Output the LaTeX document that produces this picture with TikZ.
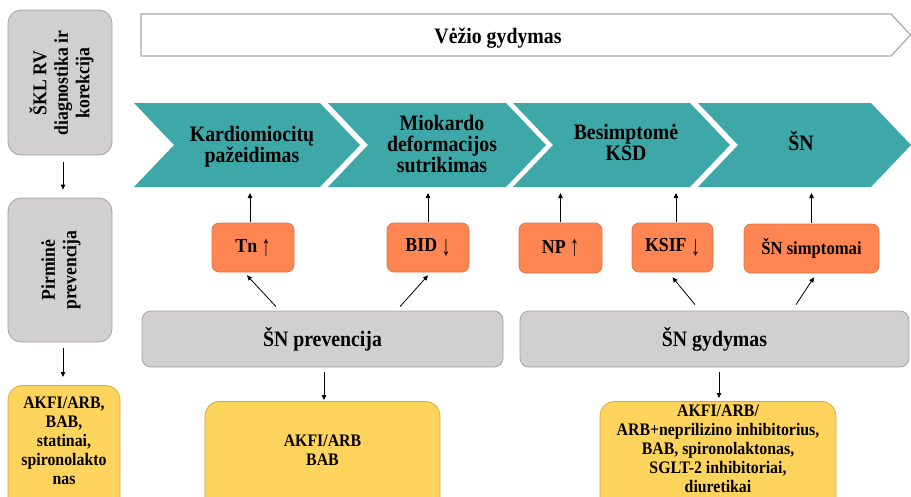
\documentclass[tikz,border=0pt]{standalone}
\usepackage{fontspec}
\setmainfont{Liberation Serif}[FakeStretch=0.9]
\usetikzlibrary{arrows.meta,calc}

\definecolor{chevteal}{HTML}{3EA8A9}
\definecolor{boxgray}{HTML}{D1CFCF}
\definecolor{boxgrayline}{HTML}{A3A3A3}
\definecolor{markorange}{HTML}{FF8552}
\definecolor{markorangeline}{HTML}{DF7444}
\definecolor{drugyellow}{HTML}{FFD45C}
\definecolor{drugyellowline}{HTML}{D2A83E}
\definecolor{bannerline}{HTML}{A8A8A8}

% tall thin arrows for the marker labels
\newcommand{\uparrowmark}{\raisebox{-0.12em}{\scalebox{1}[1.45]{↑}}}
\newcommand{\downarrowmark}{\raisebox{-0.22em}{\scalebox{1}[1.45]{↓}}}

\begin{document}
\begin{tikzpicture}[x=1pt,y=-1pt,
  grayblock/.style={draw=boxgrayline, fill=boxgray, line width=0.8pt, rounded corners=9pt, inner sep=0pt},
  sideblock/.style={grayblock, rounded corners=13pt, minimum width=104pt},
  markbox/.style={draw=markorangeline, fill=markorange, line width=0.7pt, rounded corners=7pt,
    inner sep=0pt, minimum height=49pt, font=\fontsize{19.8}{21}\selectfont\bfseries},
  drugbox/.style={draw=drugyellowline, fill=drugyellow, line width=0.8pt, rounded corners=15pt,
    inner sep=0pt, minimum height=140pt, anchor=north},
  drugtext/.style={align=center, inner sep=0pt, font=\fontsize{17.6}{19}\selectfont\bfseries},
  chev/.style={fill=chevteal},
  chevtext/.style={align=center, inner sep=0pt, font=\fontsize{22}{21}\selectfont\bfseries},
  bigtext/.style={inner sep=0pt, font=\fontsize{22}{22}\selectfont\bfseries},
  sidetext/.style={align=center, inner sep=0pt, rotate=90, font=\fontsize{19.6}{21.5}\selectfont\bfseries},
  arr/.style={-{Triangle[length=5pt,width=4.5pt]}, line width=0.8pt}
]
\useasboundingbox (0,0) rectangle (911,496);
\clip (0,0) rectangle (911,496);

% banner arrow across the top
\draw[draw=bannerline, fill=white, line width=1.2pt]
  (141,14) -- (891,14) -- (910.5,35) -- (891,56) -- (141,56) -- cycle;
\node[bigtext] (banner) at (498,38) {Vėžio gydymas};

% stage chevrons
\path[chev] (134,103) -- (320,103) -- (360,145) -- (320,187) -- (134,187) -- (174,145) -- cycle;
\path[chev] (328,103) -- (506,103) -- (546,145) -- (506,187) -- (328,187) -- (368,145) -- cycle;
\path[chev] (513,103) -- (690,103) -- (730,145) -- (690,187) -- (513,187) -- (553,145) -- cycle;
\path[chev] (698,103) -- (871,103) -- (911,145) -- (871,187) -- (698,187) -- (738,145) -- cycle;
\node[chevtext] (c1) at (252,147) {Kardiomiocitų\\pažeidimas};
\node[chevtext] (c2) at (442,144) {Miokardo\\deformacijos\\sutrikimas};
\node[chevtext] (c3) at (626,142) {Besimptomė\\KSD};
\node[chevtext] (c4) at (801,141.5) {ŠN};
\coordinate (chevbottom) at (0,193);

% left column
\node[sideblock, minimum height=145pt] (lb1) at (60,82.5) {};
\node[sidetext] (lb1t) at (61.5,83) {ŠKL RV\\diagnostika ir\\korekcija};
\node[sideblock, minimum height=144pt] (lb2) at (60,270) {};
\node[sidetext] (lb2t) at (61,270) {Pirminė\\prevencija};
\node[drugbox, minimum width=112pt] (ly) at (64,385) {};
\node[drugtext] (lyt) at (64,441) {AKFI/ARB,\\BAB,\\statinai,\\spironolakto\\nas};
\draw[arr, shorten <=7pt, shorten >=8pt] ([xshift=3pt]lb1.south) -- ([xshift=3pt]lb2.north);
\draw[arr, shorten <=6pt, shorten >=8pt] ([xshift=3pt]lb2.south) -- ([xshift=3pt]lb2.south |- ly.north);

% markers
\node[markbox, minimum width=82pt] (tn) at (253,247.5) {Tn \uparrowmark};
\node[markbox, minimum width=82pt] (bid) at (428,247.5) {BID \downarrowmark};
\node[markbox, minimum width=83pt, minimum height=50pt] (np) at (560.5,248) {NP \uparrowmark};
\node[markbox, minimum width=81pt] (ksif) at (672.5,247.5) {KSIF \downarrowmark};
\node[markbox, minimum width=135pt, font=\fontsize{18.5}{20}\selectfont\bfseries] (sns) at (811.5,248.5) {ŠN simptomai};

\draw[arr, shorten <=1pt] ([xshift=-3pt]tn.north) -- ([xshift=-3pt]tn.north |- chevbottom);
\draw[arr, shorten <=1pt] (bid.north) -- (bid.north |- chevbottom);
\draw[arr, shorten <=1pt] (np.north) -- (np.north |- chevbottom);
\draw[arr, shorten <=1pt] ([xshift=3.5pt]ksif.north) -- ([xshift=3.5pt]ksif.north |- chevbottom);
\draw[arr, shorten <=1pt] (sns.north) -- (sns.north |- chevbottom);

% prevention and treatment blocks
\node[grayblock, minimum width=361pt, minimum height=56pt, font=\fontsize{22}{22}\selectfont\bfseries] (prev) at (322.5,339) {ŠN prevencija};
\node[grayblock, minimum width=389pt, minimum height=56pt, font=\fontsize{22}{22}\selectfont\bfseries] (gyd) at (714.5,339) {ŠN gydymas};

\draw[arr] ([xshift=-46.5pt,yshift=4pt]prev.north) -- ([xshift=-6pt,yshift=-3pt]tn.south);
\draw[arr] ([xshift=77.5pt,yshift=4pt]prev.north) -- ([yshift=-3pt]bid.south);
\draw[arr] ([xshift=-19.5pt,yshift=6pt]gyd.north) -- ([yshift=-5pt]ksif.south);
\draw[arr] ([xshift=81.5pt,yshift=6pt]gyd.north) -- ([xshift=2.5pt,yshift=-4pt]sns.south);

% drug boxes
\node[drugbox, minimum width=235pt] (my) at (322.5,401) {};
\node[drugtext] (myt) at (322.5,450) {AKFI/ARB\\BAB};
\node[drugbox, minimum width=236pt] (ry) at (718,401) {};
\node[drugtext] (ryt) at (718,449) {AKFI/ARB/\\ARB+neprilizino inhibitorius,\\BAB, spironolaktonas,\\SGLT-2 inhibitoriai,\\diuretikai};

\draw[arr, shorten <=5pt, shorten >=1pt] ([xshift=1.5pt]prev.south) -- ([xshift=1.5pt]prev.south |- my.north);
\draw[arr, shorten <=5pt, shorten >=3pt] ([xshift=4.5pt]gyd.south) -- ([xshift=4.5pt]gyd.south |- ry.north);
\end{tikzpicture}
\end{document}
